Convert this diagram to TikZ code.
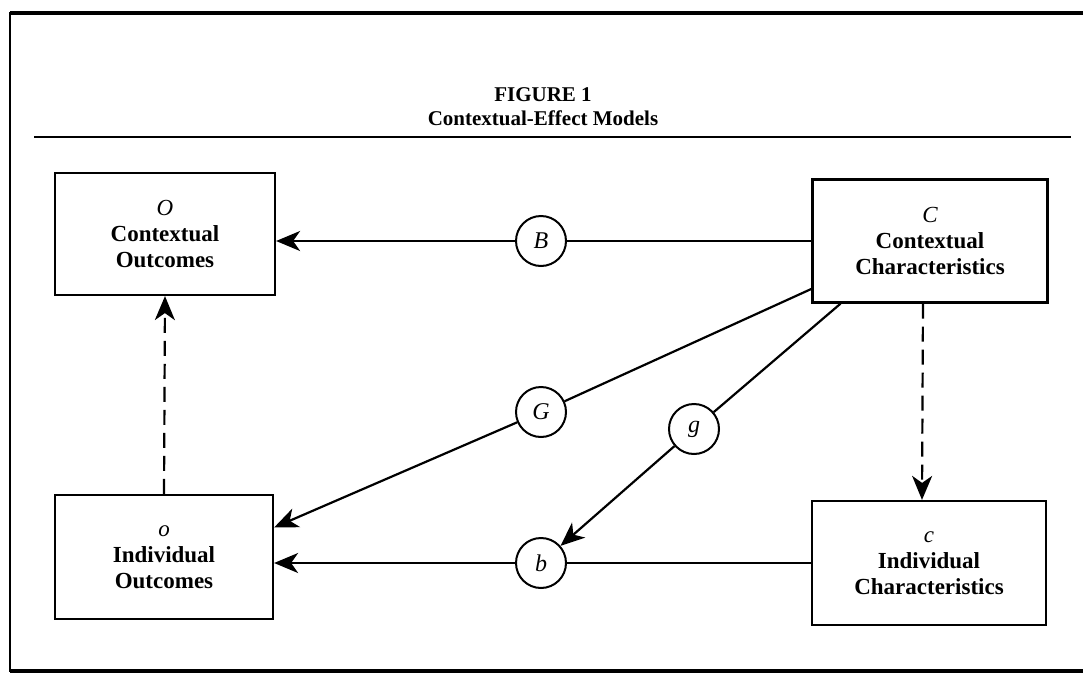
\documentclass[tikz,border=0pt]{standalone}
\usepackage{fontspec}
\setmainfont{Liberation Serif}
\usetikzlibrary{arrows.meta}
\begin{document}
\begin{tikzpicture}[x=0.5pt, y=-0.5pt,
    box/.style={draw, line width=1.1pt, align=center, inner sep=0pt,
        font=\fontsize{11.5}{13}\selectfont\bfseries},
    coef/.style={draw, circle, line width=1pt, minimum size=25pt, inner sep=0pt,
        font=\fontsize{12}{13}\selectfont\itshape},
    arr/.style={-{Stealth[length=12pt,width=10pt,inset=3.5pt]}, line width=1.1pt},
    dashline/.style={dash pattern=on 7.5pt off 4pt}]
    \useasboundingbox (0,0) rectangle (1083,675);
    % frame and title
    \draw[line width=2pt] (10,13) -- (1083,13);
    \draw[line width=1.1pt] (10,12) -- (10,672);
    \draw[line width=1.6pt] (10,671) -- (1083,671);
    \node[font=\fontsize{10.5}{12}\selectfont\bfseries] (fig) at (543,95) {FIGURE 1};
    \node[font=\fontsize{10.5}{12}\selectfont\bfseries] (cap) at (543,118) {Contextual-Effect Models};
    \draw[line width=0.9pt] (34,137) -- (1071,137);
    % boxes
    \node[box, minimum width=110pt, minimum height=61pt] (O) at (165,234)
        {{\normalfont\itshape O}\\Contextual\\Outcomes};
    \node[box, minimum width=109pt, minimum height=62pt] (o) at (164,557)
        {{\normalfont\itshape o}\\Individual\\Outcomes};
    \node[box, minimum width=117.5pt, minimum height=61.5pt] (C) at (930,241)
        {{\normalfont\itshape C}\\Contextual\\Characteristics};
    \node[box, minimum width=117pt, minimum height=62pt] (c) at (929,563)
        {{\normalfont\itshape c}\\Individual\\Characteristics};
    % coefficients
    \node[coef] (B) at (541,241) {B};
    \node[coef] (G) at (541,412) {G};
    \node[coef] (g) at (694,429) {g};
    \node[coef] (b) at (541,563) {b};
    % paths
    \draw[line width=1.1pt] (C) -- (B);
    \draw[arr] (B) -- (B -| O.east);
    \draw[line width=1.1pt] (C.202) -- (G);
    \draw[arr] (G) -- (o.15);
    \draw[line width=1.1pt] (C.215) -- (g);
    \draw[arr] (g) -- (b);
    \draw[line width=1.1pt] (c) -- (b);
    \draw[arr] (b) -- (b -| o.east);
    \draw[arr, dashline] (o.north) -- (O.south);
    \draw[arr, dashline] ([xshift=-3.5pt]C.south) -- ([xshift=-3.5pt]c.north);
\end{tikzpicture}
\end{document}
